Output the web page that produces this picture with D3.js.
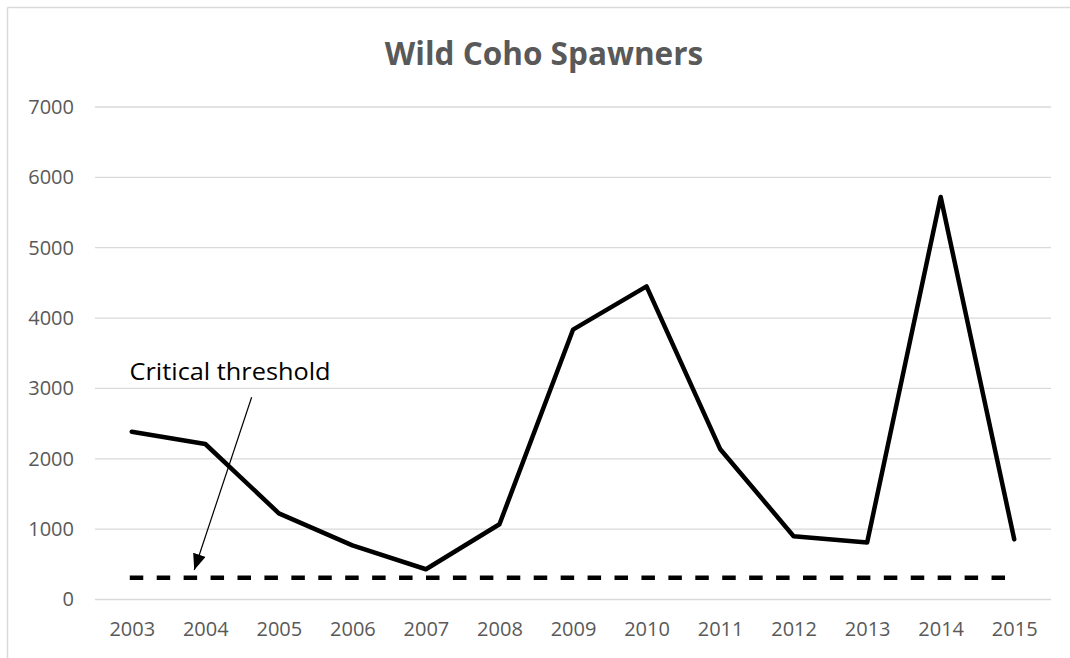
<!DOCTYPE html>
<html>
<head>
<meta charset="utf-8">
<title>Wild Coho Spawners</title>
<script src="https://cdn.jsdelivr.net/npm/d3@7"></script>
<style>
  html, body { margin: 0; padding: 0; background: #ffffff; overflow: hidden; }
  svg { display: block; }
  text { font-family: "Open Sans", "Noto Sans", sans-serif; }
</style>
</head>
<body>
<svg id="chart" width="1070" height="658"></svg>
<script>
// Spawner counts by return year
const years = [2003, 2004, 2005, 2006, 2007, 2008, 2009, 2010, 2011, 2012, 2013, 2014, 2015];
const spawners = [2385, 2210, 1225, 770, 430, 1070, 3835, 4450, 2140, 900, 810, 5720, 855];

// Critical threshold level
const threshold = [310];

// Y axis ticks
const yTicks = [0, 1000, 2000, 3000, 4000, 5000, 6000, 7000];

// Annotation: label and arrow, in data units (year, count)
const annotationText = ["Critical threshold"];
const arrowTail = [2004.63, 2875];
const arrowTip = [2003.85, 420];
const labelAnchor = [2002.97, 3120];

const svg = d3.select("#chart");
const W = 1070, H = 658;

// Chart frame: only the top and left edges fall inside the page
const frame = svg.append("g")
  .attr("stroke", "#d9d9d9")
  .attr("stroke-width", 1.5);
frame.append("line")
  .attr("x1", 7.5).attr("x2", W).attr("y1", 7.5).attr("y2", 7.5);
frame.append("line")
  .attr("x1", 7.5).attr("x2", 7.5).attr("y1", 7.5).attr("y2", H);

const plot = { left: 95, right: 1051, top: 107, bottom: 599.5 };
const step = (plot.right - plot.left) / years.length;

const x = d3.scaleLinear()
  .domain([years[0], years[years.length - 1]])
  .range([plot.left + step / 2, plot.right - step / 2]);

const y = d3.scaleLinear()
  .domain([0, 7000])
  .range([plot.bottom, plot.top]);

// Horizontal gridlines
svg.append("g")
  .selectAll("line")
  .data(yTicks)
  .join("line")
  .attr("x1", plot.left).attr("x2", plot.right)
  .attr("y1", d => y(d)).attr("y2", d => y(d))
  .attr("stroke", "#d9d9d9")
  .attr("stroke-width", 1.3);

// Y axis labels
const yAxis = d3.axisLeft(y).tickValues(yTicks).tickSize(0).tickPadding(0).tickFormat(d3.format("d"));
const gy = svg.append("g")
  .attr("transform", `translate(${plot.left - 21},0)`)
  .call(yAxis);
gy.select(".domain").remove();
gy.selectAll("text")
  .attr("fill", "#595959")
  .attr("font-size", "20px")
  .attr("font-family", '"Open Sans", sans-serif');

// X axis labels
const xAxis = d3.axisBottom(x).tickValues(years).tickSize(0).tickPadding(0).tickFormat(d3.format("d"));
const gx = svg.append("g")
  .attr("transform", `translate(0,${plot.bottom + 22})`)
  .call(xAxis);
gx.select(".domain").remove();
gx.selectAll("text")
  .attr("fill", "#595959")
  .attr("font-size", "20px")
  .attr("font-family", '"Open Sans", sans-serif');

// Threshold line (dashed)
svg.append("line")
  .attr("x1", x(years[0]) - 2)
  .attr("x2", x(years[years.length - 1]))
  .attr("y1", y(threshold[0]))
  .attr("y2", y(threshold[0]))
  .attr("stroke", "#000000")
  .attr("stroke-width", 4.5)
  .attr("stroke-dasharray", "13.5,13.43");

// Spawner series
const line = d3.line()
  .x((d, i) => x(years[i]))
  .y(d => y(d));

svg.append("path")
  .datum(spawners)
  .attr("d", line)
  .attr("fill", "none")
  .attr("stroke", "#000000")
  .attr("stroke-width", 4.5)
  .attr("stroke-linejoin", "round")
  .attr("stroke-linecap", "round");

// Title
svg.append("text")
  .attr("x", 544)
  .attr("y", 65)
  .attr("text-anchor", "middle")
  .attr("font-size", "31.5px")
  .attr("font-weight", "bold")
  .attr("fill", "#595959")
  .text("Wild Coho Spawners");

// Annotation arrow
const defs = svg.append("defs");
defs.append("marker")
  .attr("id", "arrowhead")
  .attr("viewBox", "0 0 16 13")
  .attr("refX", 16).attr("refY", 6.5)
  .attr("markerUnits", "userSpaceOnUse")
  .attr("markerWidth", 16).attr("markerHeight", 13)
  .attr("orient", "auto")
  .append("path")
  .attr("d", "M0,0 L16,6.5 L0,13 Z")
  .attr("fill", "#000000");

svg.append("line")
  .attr("x1", x(arrowTail[0])).attr("y1", y(arrowTail[1]))
  .attr("x2", x(arrowTip[0])).attr("y2", y(arrowTip[1]))
  .attr("stroke", "#000000")
  .attr("stroke-width", 1.2)
  .attr("marker-end", "url(#arrowhead)");

svg.append("text")
  .attr("x", x(labelAnchor[0]))
  .attr("y", y(labelAnchor[1]))
  .attr("font-size", "23px")
  .attr("fill", "#000000")
  .attr("textLength", 201)
  .attr("lengthAdjust", "spacingAndGlyphs")
  .text(annotationText[0]);
</script>
</body>
</html>
